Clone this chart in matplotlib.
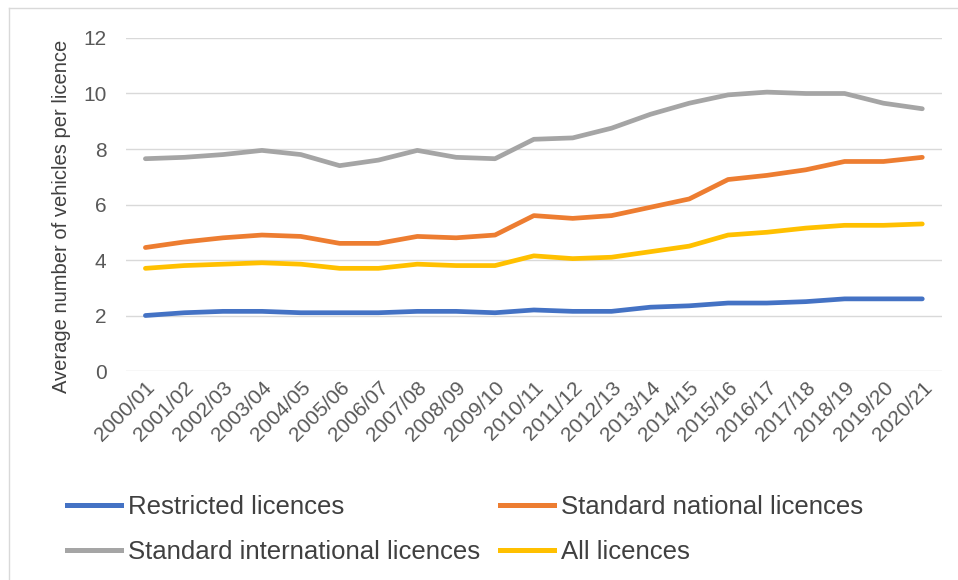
import matplotlib.pyplot as plt
from matplotlib.lines import Line2D

plt.rcParams["font.family"] = ["Liberation Sans", "DejaVu Sans"]

years = [
    "2000/01", "2001/02", "2002/03", "2003/04", "2004/05", "2005/06", "2006/07",
    "2007/08", "2008/09", "2009/10", "2010/11", "2011/12", "2012/13", "2013/14",
    "2014/15", "2015/16", "2016/17", "2017/18", "2018/19", "2019/20", "2020/21",
]
restricted = [2.0, 2.1, 2.15, 2.15, 2.1, 2.1, 2.1, 2.15, 2.15, 2.1, 2.2,
              2.15, 2.15, 2.3, 2.35, 2.45, 2.45, 2.5, 2.6, 2.6, 2.6]
standard_national = [4.45, 4.65, 4.8, 4.9, 4.85, 4.6, 4.6, 4.85, 4.8, 4.9, 5.6,
                     5.5, 5.6, 5.9, 6.2, 6.9, 7.05, 7.25, 7.55, 7.55, 7.7]
standard_international = [7.65, 7.7, 7.8, 7.95, 7.8, 7.4, 7.6, 7.95, 7.7, 7.65, 8.35,
                          8.4, 8.75, 9.25, 9.65, 9.95, 10.05, 10.0, 10.0, 9.65, 9.45]
all_licences = [3.7, 3.8, 3.85, 3.9, 3.85, 3.7, 3.7, 3.85, 3.8, 3.8, 4.15,
                4.05, 4.1, 4.3, 4.5, 4.9, 5.0, 5.15, 5.25, 5.25, 5.3]

series = [
    ("Restricted licences", restricted, "#4472C4"),
    ("Standard national licences", standard_national, "#ED7D31"),
    ("Standard international licences", standard_international, "#A5A5A5"),
    ("All licences", all_licences, "#FFC000"),
]

fig = plt.figure(figsize=(9.58, 5.8), dpi=100)
ax = fig.add_axes([0.1315, 0.3603, 0.8515, 0.5742])

x = range(len(years))
for name, vals, col in series:
    ax.plot(x, vals, color=col, linewidth=3.4, solid_capstyle="round",
            solid_joinstyle="round", label=name, zorder=3)

ax.set_xlim(-0.5, len(years) - 0.5)
ax.set_ylim(0, 12)
ax.set_yticks(range(0, 13, 2))
ax.set_xticks(list(x))
ax.set_xticklabels(years, rotation=45, ha="right", rotation_mode="anchor")
ax.tick_params(axis="x", length=0, pad=5, labelsize=15, labelcolor="#595959")
ax.tick_params(axis="y", length=0, pad=14, labelsize=15, labelcolor="#595959")
ax.grid(axis="y", color="#D9D9D9", linewidth=1)
for s in ax.spines.values():
    s.set_visible(False)
ax.set_ylabel("Average number of vehicles per licence", fontsize=14.5,
              color="#404040")
ax.yaxis.set_label_coords(-0.068, 0.465)

# legend laid out in two columns below the axis labels
order = [0, 2, 1, 3]
handles = [Line2D([], [], color=series[i][2], linewidth=3.6) for i in order]
labels = [series[i][0] for i in order]
fig.legend(handles, labels, ncol=2, loc="upper left",
           bbox_to_anchor=(0.0455, 0.187), frameon=False, fontsize=18.5,
           handlelength=2.1, handletextpad=0.27, columnspacing=0.8,
           labelspacing=0.83, labelcolor="#404040")

# thin frame along the top and left edges
fig.add_artist(Line2D([9 / 958, 9 / 958], [0, 1 - 8 / 580], color="#D9D9D9",
                      linewidth=1, transform=fig.transFigure))
fig.add_artist(Line2D([9 / 958, 1], [1 - 8 / 580, 1 - 8 / 580], color="#D9D9D9",
                      linewidth=1, transform=fig.transFigure))

fig.savefig("out.png", dpi=100)
